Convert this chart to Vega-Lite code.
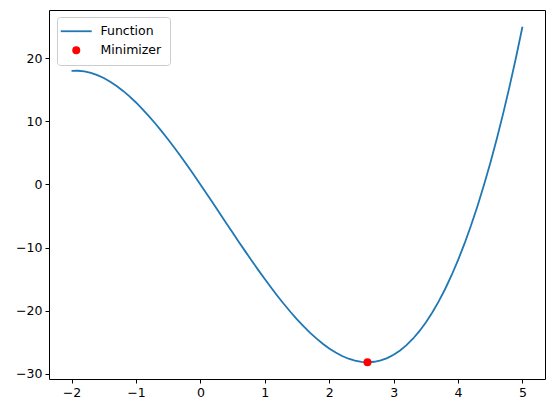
{
  "$schema": "https://vega.github.io/schema/vega-lite/v6.json",
  "width": 496,
  "height": 369,
  "autosize": {"type": "none"},
  "padding": {"left": 49, "top": 10, "right": 10, "bottom": 34},
  "background": "white",
  "config": {
    "view": {"stroke": "black", "strokeWidth": 1},
    "font": "DejaVu Sans",
    "axis": {
      "domain": false,
      "grid": false,
      "tickColor": "black",
      "tickSize": 4,
      "tickWidth": 1,
      "labelColor": "black",
      "labelFont": "DejaVu Sans",
      "labelFontSize": 12.5,
      "labelPadding": 3,
      "title": null
    }
  },
  "datasets": {
    "fn": [
      {"x": -2.0, "y": 18.0, "series": "Function"},
      {"x": -1.9, "y": 18.031, "series": "Function"},
      {"x": -1.8, "y": 17.928, "series": "Function"},
      {"x": -1.7, "y": 17.697, "series": "Function"},
      {"x": -1.6, "y": 17.344, "series": "Function"},
      {"x": -1.5, "y": 16.875, "series": "Function"},
      {"x": -1.4, "y": 16.296, "series": "Function"},
      {"x": -1.3, "y": 15.613, "series": "Function"},
      {"x": -1.2, "y": 14.832, "series": "Function"},
      {"x": -1.1, "y": 13.959, "series": "Function"},
      {"x": -1.0, "y": 13.0, "series": "Function"},
      {"x": -0.9, "y": 11.961, "series": "Function"},
      {"x": -0.8, "y": 10.848, "series": "Function"},
      {"x": -0.7, "y": 9.667, "series": "Function"},
      {"x": -0.6, "y": 8.424, "series": "Function"},
      {"x": -0.5, "y": 7.125, "series": "Function"},
      {"x": -0.4, "y": 5.776, "series": "Function"},
      {"x": -0.3, "y": 4.383, "series": "Function"},
      {"x": -0.2, "y": 2.952, "series": "Function"},
      {"x": -0.1, "y": 1.489, "series": "Function"},
      {"x": 0.0, "y": 0.0, "series": "Function"},
      {"x": 0.1, "y": -1.509, "series": "Function"},
      {"x": 0.2, "y": -3.032, "series": "Function"},
      {"x": 0.3, "y": -4.563, "series": "Function"},
      {"x": 0.4, "y": -6.096, "series": "Function"},
      {"x": 0.5, "y": -7.625, "series": "Function"},
      {"x": 0.6, "y": -9.144, "series": "Function"},
      {"x": 0.7, "y": -10.647, "series": "Function"},
      {"x": 0.8, "y": -12.128, "series": "Function"},
      {"x": 0.9, "y": -13.581, "series": "Function"},
      {"x": 1.0, "y": -15.0, "series": "Function"},
      {"x": 1.1, "y": -16.379, "series": "Function"},
      {"x": 1.2, "y": -17.712, "series": "Function"},
      {"x": 1.3, "y": -18.993, "series": "Function"},
      {"x": 1.4, "y": -20.216, "series": "Function"},
      {"x": 1.5, "y": -21.375, "series": "Function"},
      {"x": 1.6, "y": -22.464, "series": "Function"},
      {"x": 1.7, "y": -23.477, "series": "Function"},
      {"x": 1.8, "y": -24.408, "series": "Function"},
      {"x": 1.9, "y": -25.251, "series": "Function"},
      {"x": 2.0, "y": -26.0, "series": "Function"},
      {"x": 2.1, "y": -26.649, "series": "Function"},
      {"x": 2.2, "y": -27.192, "series": "Function"},
      {"x": 2.3, "y": -27.623, "series": "Function"},
      {"x": 2.4, "y": -27.936, "series": "Function"},
      {"x": 2.5, "y": -28.125, "series": "Function"},
      {"x": 2.6, "y": -28.184, "series": "Function"},
      {"x": 2.7, "y": -28.107, "series": "Function"},
      {"x": 2.8, "y": -27.888, "series": "Function"},
      {"x": 2.9, "y": -27.521, "series": "Function"},
      {"x": 3.0, "y": -27.0, "series": "Function"},
      {"x": 3.1, "y": -26.319, "series": "Function"},
      {"x": 3.2, "y": -25.472, "series": "Function"},
      {"x": 3.3, "y": -24.453, "series": "Function"},
      {"x": 3.4, "y": -23.256, "series": "Function"},
      {"x": 3.5, "y": -21.875, "series": "Function"},
      {"x": 3.6, "y": -20.304, "series": "Function"},
      {"x": 3.7, "y": -18.537, "series": "Function"},
      {"x": 3.8, "y": -16.568, "series": "Function"},
      {"x": 3.9, "y": -14.391, "series": "Function"},
      {"x": 4.0, "y": -12.0, "series": "Function"},
      {"x": 4.1, "y": -9.389, "series": "Function"},
      {"x": 4.2, "y": -6.552, "series": "Function"},
      {"x": 4.3, "y": -3.483, "series": "Function"},
      {"x": 4.4, "y": -0.176, "series": "Function"},
      {"x": 4.5, "y": 3.375, "series": "Function"},
      {"x": 4.6, "y": 7.176, "series": "Function"},
      {"x": 4.7, "y": 11.233, "series": "Function"},
      {"x": 4.8, "y": 15.552, "series": "Function"},
      {"x": 4.9, "y": 20.139, "series": "Function"},
      {"x": 5.0, "y": 25.0, "series": "Function"}
    ],
    "minpt": [
      {"x": 2.594, "y": -28.184, "series": "Minimizer"}
    ]
  },
  "layer": [
    {
      "data": {"name": "fn"},
      "mark": {"type": "line", "strokeWidth": 1.8, "clip": true},
      "encoding": {
        "x": {"field": "x", "type": "quantitative",
              "scale": {"domain": [-2.35, 5.35], "nice": false, "zero": false},
              "axis": {"values": [-2, -1, 0, 1, 2, 3, 4, 5], "format": "d",
                       "labelExpr": "replace(datum.label, '-', '\u2212')"}},
        "y": {"field": "y", "type": "quantitative",
              "scale": {"domain": [-30.84, 27.66], "nice": false, "zero": false},
              "axis": {"values": [-30, -20, -10, 0, 10, 20], "format": "d",
                       "labelExpr": "replace(datum.label, '-', '\u2212')"}},
        "color": {"field": "series", "type": "nominal",
                  "scale": {"domain": ["Function", "Minimizer"], "range": ["#1f77b4", "#ff0000"]},
                  "legend": {
                    "title": null,
                    "orient": "none",
                    "legendX": 8,
                    "legendY": 7,
                    "fillColor": "white",
                    "strokeColor": "#cccccc",
                    "cornerRadius": 3,
                    "padding": 8,
                    "labelFont": "DejaVu Sans",
                    "labelFontSize": 12.5,
                    "labelColor": "black",
                    "rowPadding": 6,
                    "labelOffset": 18,
                    "symbolOffset": 5,
                    "symbolType": "stroke",
                    "symbolSize": 784,
                    "encode": {
                      "symbols": {
                        "update": {
                          "shape": {"signal": "datum.value === 'Function' ? 'stroke' : 'circle'"},
                          "size": {"signal": "datum.value === 'Function' ? 960 : 64"},
                          "fill": {"signal": "datum.value === 'Function' ? 'transparent' : '#ff0000'"},
                          "stroke": {"signal": "datum.value === 'Function' ? '#1f77b4' : '#ff0000'"},
                          "strokeWidth": {"signal": "datum.value === 'Function' ? 1.8 : 0"},
                          "opacity": {"value": 1}
                        }
                      }
                    }
                  }}
      }
    },
    {
      "data": {"name": "minpt"},
      "mark": {"type": "point", "filled": true, "size": 64, "opacity": 1},
      "encoding": {
        "x": {"field": "x", "type": "quantitative"},
        "y": {"field": "y", "type": "quantitative"},
        "color": {"field": "series", "type": "nominal"}
      }
    }
  ]
}
